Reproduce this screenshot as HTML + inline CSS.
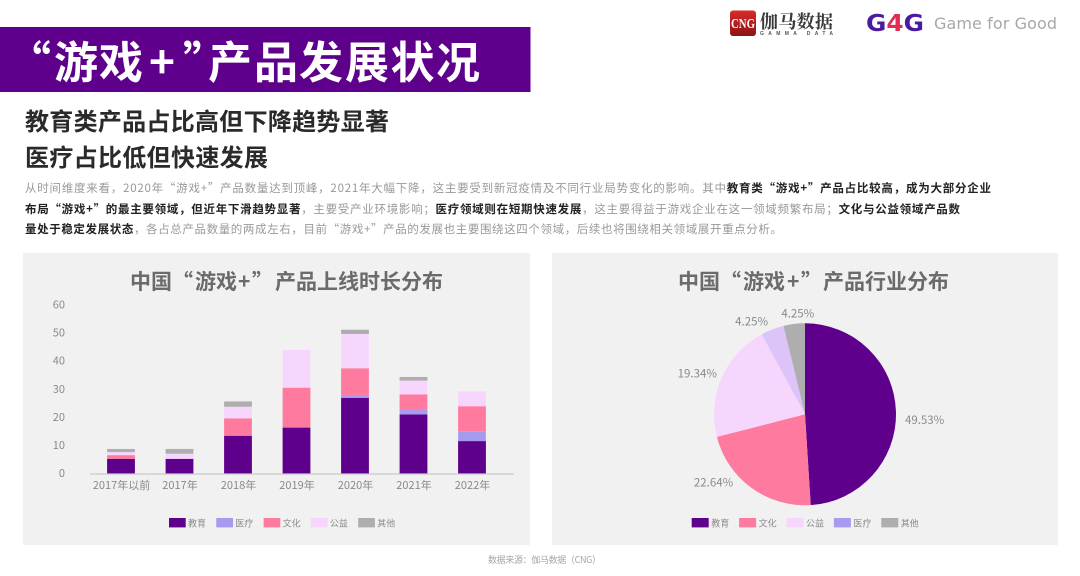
<!DOCTYPE html>
<html lang="zh">
<head>
<meta charset="utf-8">
<title>“游戏+”产品发展状况</title>
<style>
html,body{margin:0;padding:0;background:#fff;}
body{width:1080px;height:576px;overflow:hidden;}
svg{display:block;font-family:"Liberation Sans","Noto Sans CJK SC",sans-serif;}
.cjk{font-family:"Noto Sans CJK SC","Liberation Sans",sans-serif;}
.b{font-weight:700;fill:#222;}
</style>
</head>
<body>
<svg id="root" width="1080" height="576" viewBox="0 0 1080 576" xmlns="http://www.w3.org/2000/svg">
  <defs>
    <linearGradient id="cngGrad" x1="0" y1="0" x2="0" y2="1">
      <stop offset="0" stop-color="#d92a2a"/>
      <stop offset="1" stop-color="#8a1416"/>
    </linearGradient>
  </defs>

  <rect x="0" y="27" width="530.5" height="65" fill="#5f008c"/>
  <text class="cjk" x="7 54 99 149 183 208 254 299 345 390.5 436" y="78" font-size="44" font-weight="700" fill="#fff">“游戏+”产品发展状况</text>

  <g>
    <rect x="730" y="10.5" width="26" height="25.5" rx="3" fill="url(#cngGrad)"/>
    <text x="731" y="28" font-family="Liberation Serif" font-size="14" font-weight="700" fill="#fff" textLength="24" lengthAdjust="spacingAndGlyphs">CNG</text>
    <text x="760" y="28" style="font-family:'Noto Serif CJK SC',serif" font-size="18" font-weight="700" fill="#3a3a3a" textLength="73" lengthAdjust="spacing">伽马数据</text>
    <text x="760" y="35" font-size="5" font-weight="700" fill="#555" textLength="73" lengthAdjust="spacing">GAMMA DATA</text>
  </g>
  <g>
    <text x="866" y="31" font-family="DejaVu Sans" font-size="23" font-weight="700" textLength="58" lengthAdjust="spacingAndGlyphs"><tspan fill="#4a1aa0">G</tspan><tspan fill="#e22a52">4</tspan><tspan fill="#4a1aa0">G</tspan></text>
    <text x="934" y="29" font-family="DejaVu Sans" font-size="16" fill="#a8a8a8" textLength="123" lengthAdjust="spacing">Game for Good</text>
  </g>

  <text class="cjk" x="25" y="130" font-size="24" font-weight="700" fill="#2a2a2a" textLength="364" lengthAdjust="spacing">教育类产品占比高但下降趋势显著</text>
  <text class="cjk" x="25" y="166" font-size="24" font-weight="700" fill="#2a2a2a" textLength="243" lengthAdjust="spacing">医疗占比低但快速发展</text>

  <g class="cjk" font-size="11.5" fill="#999">
    <text x="25" y="192" textLength="966" lengthAdjust="spacing">从时间维度来看，2020年“游戏+”产品数量达到顶峰，2021年大幅下降，这主要受到新冠疫情及不同行业局势变化的影响。其中<tspan class="b">教育类“游戏+”产品占比较高，成为大部分企业</tspan></text>
    <text x="25" y="213" textLength="935" lengthAdjust="spacing"><tspan class="b">布局“游戏+”的最主要领域，但近年下滑趋势显著</tspan>，主要受产业环境影响；<tspan class="b">医疗领域则在短期快速发展</tspan>，这主要得益于游戏企业在这一领域频繁布局；<tspan class="b">文化与公益领域产品数</tspan></text>
    <text x="25" y="233" textLength="757" lengthAdjust="spacing"><tspan class="b">量处于稳定发展状态</tspan>，各占总产品数量的两成左右，目前“游戏+”产品的发展也主要围绕这四个领域，后续也将围绕相关领域展开重点分析。</text>
  </g>

  <rect x="23" y="253" width="507" height="292" fill="#f1f1f1"/>
  <rect x="552" y="253" width="506" height="292" fill="#f1f1f1"/>

  <text class="cjk" x="130 151 172 195 216 238 252 275 296 317 338 359 380 401 422" y="289" font-size="21" font-weight="700" fill="#6b6b6b">中国“游戏+”产品上线时长分布</text>
  <text class="cjk" x="678 699 720 743 764 787 801 823 844 865 886 907 928" y="289" font-size="21" font-weight="700" fill="#6b6b6b">中国“游戏+”产品行业分布</text>

  <g id="barChart"></g>
  <g id="pieChart"></g>

  <text class="cjk" x="488" y="563" font-size="9" fill="#a5a5a5" textLength="113" lengthAdjust="spacing">数据来源：伽马数据（CNG）</text>
</svg>

<script>
// Stacked bar data
const years = ['2017年以前', '2017年', '2018年', '2019年', '2020年', '2021年', '2022年'];
const education = [5.3, 5.3, 13.5, 16.4, 27.0, 21.1, 11.6];
const medical = [0, 0, 0, 0, 1.0, 1.9, 3.5];
const culture = [1.3, 0, 6.2, 14.2, 9.5, 5.2, 8.9];
const welfare = [1.1, 1.8, 4.1, 13.4, 12.2, 4.9, 5.3];
const other = [1.1, 1.7, 1.9, 0, 1.5, 1.3, 0];
const yTicks = [0, 10, 20, 30, 40, 50, 60];

const pieCategories = ['教育', '文化', '公益', '医疗', '其他'];
const pieValues = [49.0, 22.0, 21.1, 4.1, 3.8];
const pieLabels = ['49.53%', '22.64%', '19.34%', '4.25%', '4.25%'];

const NS = 'http://www.w3.org/2000/svg';
const PURPLE = '#5f008c', LILAC = '#a79bf0', PINK = '#ff7a9f', PALE = '#f7d6fe', GREY = '#aeaeae';

function make(parent, tag, attrs, text) {
  const el = document.createElementNS(NS, tag);
  for (const k in attrs) el.setAttribute(k, attrs[k]);
  if (text !== undefined) el.textContent = text;
  parent.appendChild(el);
  return el;
}

// ---- bar chart ----
const barRoot = document.getElementById('barChart');
const Y0 = 473.7, PX_PER_UNIT = 2.812, BAND_LEFT = 91.75, BAND_STEP = 58.5, BAR_W = 27.8;
function yScale(v) { return Y0 - v * PX_PER_UNIT; }
function xCenter(i) { return BAND_LEFT + BAND_STEP * (i + 0.5); }

yTicks.forEach(function (t) {
  const el = make(barRoot, 'text', {x: 65, y: yScale(t) + 3.5, 'text-anchor': 'end', 'font-size': 11, fill: '#8a8a8a', class: 'cjk'}, String(t));
  
  
});

const stackSeries = [
  {name: 'education', label: '教育', values: education, color: PURPLE},
  {name: 'medical', label: '医疗', values: medical, color: LILAC},
  {name: 'culture', label: '文化', values: culture, color: PINK},
  {name: 'welfare', label: '公益', values: welfare, color: PALE},
  {name: 'other', label: '其他', values: other, color: GREY}
];

years.forEach(function (year, i) {
  let acc = 0;
  stackSeries.forEach(function (s) {
    const v = s.values[i];
    if (v > 0) {
      const top = yScale(acc + v);
      const r = make(barRoot, 'rect', {x: xCenter(i) - BAR_W / 2, y: top, width: BAR_W, height: yScale(acc) - top, fill: s.color});
      
      
    }
    acc += v;
  });
  const label = make(barRoot, 'text', {x: xCenter(i) + 0.5, y: 489, 'text-anchor': 'middle', 'font-size': 11, fill: '#8a8a8a', class: 'cjk'}, year);
  
  
});

const axisLine = make(barRoot, 'line', {x1: 90, x2: 514, y1: 474, y2: 474, stroke: '#c9c9c9', 'stroke-width': 1.3});



stackSeries.forEach(function (s, i) {
  const x = 169 + i * 47.3;
  const sw = make(barRoot, 'rect', {x: x, y: 518, width: 16.7, height: 9.4, fill: s.color});
  
  
  const t = make(barRoot, 'text', {x: x + 19, y: 526.5, 'font-size': 9, fill: '#8a8a8a', class: 'cjk'}, s.label);
  
  
});

// ---- pie chart ----
const pieRoot = document.getElementById('pieChart');
const CX = 805, CY = 414.3, R = 91;
const sliceColors = [PURPLE, PINK, PALE, '#dcc4fb', GREY];
const legendColors = [PURPLE, PINK, PALE, LILAC, GREY];
const labelNudgeX = [0, -13, 3.6, -1, 4.7];
const labelNudgeY = [9, -12.5, -1, 0.7, -1.7];
const total = pieValues.reduce(function (a, b) { return a + b; }, 0);
function polar(r, frac) {
  const a = frac * 2 * Math.PI;
  return [CX + r * Math.sin(a), CY - r * Math.cos(a)];
}
let cum = 0;
pieValues.forEach(function (v, i) {
  const start = cum / total;
  const end = (cum + v) / total;
  const p0 = polar(R, start), p1 = polar(R, end);
  const large = end - start > 0.5 ? 1 : 0;
  const d = 'M' + CX + ' ' + CY + 'L' + p0[0] + ' ' + p0[1] + 'A' + R + ' ' + R + ' 0 ' + large + ' 1 ' + p1[0] + ' ' + p1[1] + 'Z';
  const slice = make(pieRoot, 'path', {d: d, fill: sliceColors[i]});
  
  
  cum += v;
});
cum = 0;
pieValues.forEach(function (v, i) {
  const mid = (cum + v / 2) / total;
  const p = polar(R + 9, mid);
  const nearTop = Math.abs(Math.sin(mid * 2 * Math.PI)) < 0.2;
  const anchor = nearTop ? 'middle' : (mid < 0.5 ? 'start' : 'end');
  const label = make(pieRoot, 'text', {x: p[0] + labelNudgeX[i], y: p[1] + 4 + labelNudgeY[i], 'text-anchor': anchor, 'font-size': 11.5, fill: '#8a8a8a', class: 'cjk'}, pieLabels[i]);
  
  
  cum += v;
});
pieCategories.forEach(function (c, i) {
  const x = 691.7 + i * 47.4;
  const sw = make(pieRoot, 'rect', {x: x, y: 518, width: 17, height: 9.4, fill: legendColors[i]});
  
  
  const t = make(pieRoot, 'text', {x: x + 19.5, y: 526.5, 'font-size': 9, fill: '#8a8a8a', class: 'cjk'}, c);
  
  
});
</script>
</body>
</html>
